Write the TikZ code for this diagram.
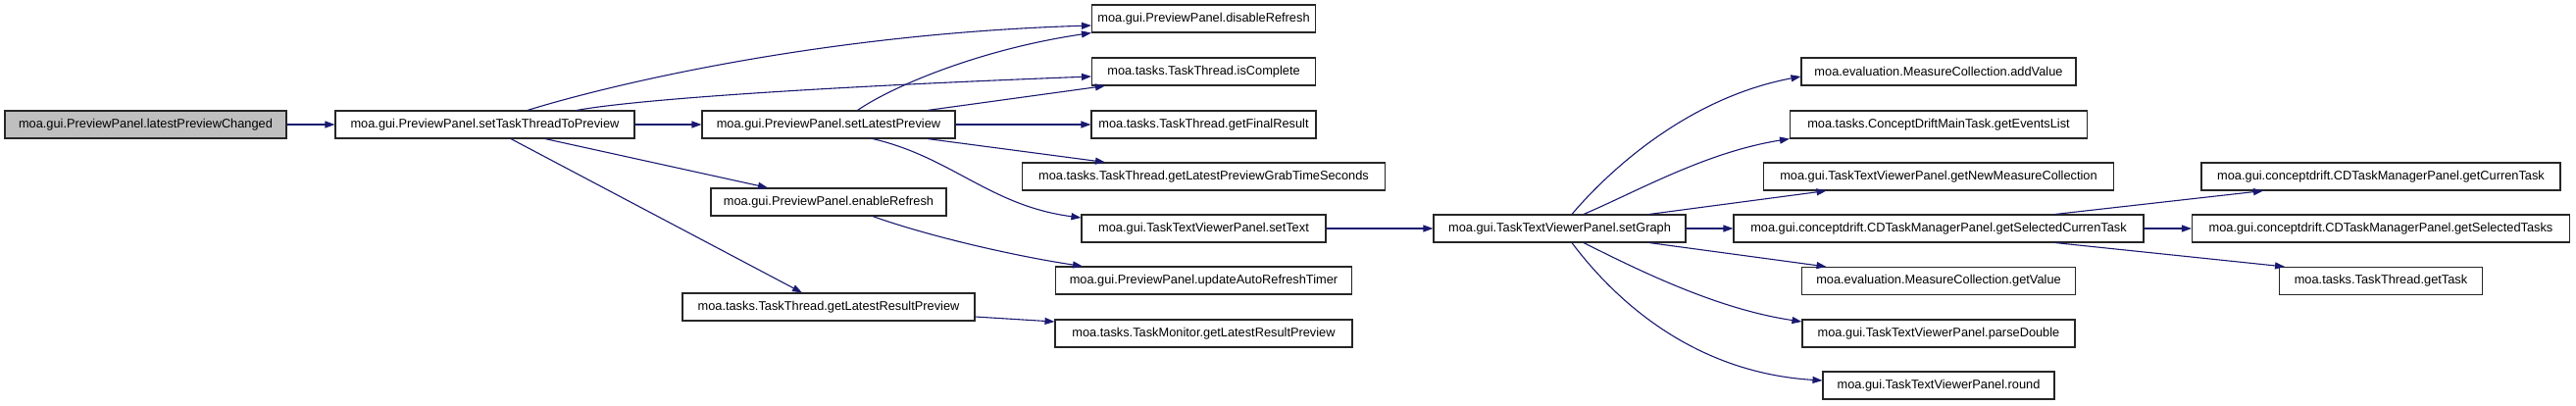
\documentclass[tikz,border=0pt]{standalone}
\usepackage{fontspec}
\setmainfont{Liberation Sans}
\usetikzlibrary{arrows.meta}
\definecolor{edgec}{HTML}{191970}
\definecolor{rootfill}{HTML}{BFBFBF}
\begin{document}
\begin{tikzpicture}[x=1pt,y=-1pt,
  fn/.style={draw=black!85, line width=1.1pt, fill=white, minimum height=28pt, inner sep=0pt, font=\fontsize{12.8}{14}\selectfont},
  ed/.style={draw=edgec, line width=1.1pt, -{Triangle[length=10pt,width=7pt]}}]
\useasboundingbox (0,0) rectangle (2627,413);
% column 0-2
\node[fn, fill=rootfill, minimum width=287pt] (lpc) at (148.5,127) {moa.gui.PreviewPanel.latestPreviewChanged};
\node[fn, minimum width=305pt] (sttp) at (494.5,127) {moa.gui.PreviewPanel.setTaskThreadToPreview};
\node[fn, minimum width=258pt] (slp) at (845,127) {moa.gui.PreviewPanel.setLatestPreview};
\node[fn, minimum width=240pt] (enr) at (845,206) {moa.gui.PreviewPanel.enableRefresh};
\node[fn, minimum width=298pt] (tglrp) at (845,313) {moa.tasks.TaskThread.getLatestResultPreview};
% column 3
\node[fn, minimum width=228pt] (dis) at (1227.5,19) {moa.gui.PreviewPanel.disableRefresh};
\node[fn, minimum width=228pt] (isc) at (1227.5,73) {moa.tasks.TaskThread.isComplete};
\node[fn, minimum width=229pt] (gfr) at (1227.5,127) {moa.tasks.TaskThread.getFinalResult};
\node[fn, minimum width=370pt] (grab) at (1227.5,180) {moa.tasks.TaskThread.getLatestPreviewGrabTimeSeconds};
\node[fn, minimum width=249pt] (stx) at (1227.5,233) {moa.gui.TaskTextViewerPanel.setText};
\node[fn, minimum width=302pt] (uart) at (1227.5,286) {moa.gui.PreviewPanel.updateAutoRefreshTimer};
\node[fn, minimum width=303pt] (tmglrp) at (1227.5,340) {moa.tasks.TaskMonitor.getLatestResultPreview};
% column 4
\node[fn, minimum width=257pt] (sg) at (1590.5,233) {moa.gui.TaskTextViewerPanel.setGraph};
% column 5
\node[fn, minimum width=280pt] (av) at (1977,73) {moa.evaluation.MeasureCollection.addValue};
\node[fn, minimum width=303pt] (gel) at (1977,127) {moa.tasks.ConceptDriftMainTask.getEventsList};
\node[fn, minimum width=357pt] (gnmc) at (1977,180) {moa.gui.TaskTextViewerPanel.getNewMeasureCollection};
\node[fn, minimum width=418pt] (gsct) at (1977,233) {moa.gui.conceptdrift.CDTaskManagerPanel.getSelectedCurrenTask};
\node[fn, minimum width=279pt] (gv) at (1977,286.5) {moa.evaluation.MeasureCollection.getValue};
\node[fn, minimum width=278pt] (pd) at (1977,340) {moa.gui.TaskTextViewerPanel.parseDouble};
\node[fn, minimum width=236pt] (rnd) at (1977,393) {moa.gui.TaskTextViewerPanel.round};
% column 6
\node[fn, minimum width=366pt] (gct) at (2428,180) {moa.gui.conceptdrift.CDTaskManagerPanel.getCurrenTask};
\node[fn, minimum width=385pt] (gst) at (2428,233) {moa.gui.conceptdrift.CDTaskManagerPanel.getSelectedTasks};
\node[fn, minimum width=207pt] (gt) at (2428,286.5) {moa.tasks.TaskThread.getTask};
% edges
\draw[ed] (lpc.east) -- (sttp.west);
\draw[ed] ([xshift=43.5pt]sttp.north) .. controls (600,93) and (820,35) .. ([yshift=-7pt]dis.west);
\draw[ed] ([xshift=93.5pt]sttp.north) .. controls (640,103) and (800,90) .. ([yshift=-5pt]isc.west);
\draw[ed] (sttp.east) -- (slp.west);
\draw[ed] ([xshift=61.5pt]sttp.south) -- ([xshift=-62pt]enr.north);
\draw[ed] ([xshift=26.5pt]sttp.south) -- ([xshift=-27pt]tglrp.north);
\draw[ed] ([xshift=29.5pt]slp.north) .. controls (910,88) and (1000,50) .. (dis.south west);
\draw[ed] ([xshift=101pt]slp.north) -- ([xshift=-100.5pt]isc.south);
\draw[ed] (slp.east) -- (gfr.west);
\draw[ed] ([xshift=101pt]slp.south) -- ([xshift=-100.5pt]grab.north);
\draw[ed] ([xshift=45pt]slp.south) .. controls (970,160) and (1010,210) .. ([yshift=11pt]stx.west);
\draw[ed] ([xshift=45pt]enr.south) .. controls (950,242) and (1040,262) .. ([xshift=-123.5pt]uart.north);
\draw[ed] ([yshift=-10pt]tglrp.east) -- ([yshift=12pt]tmglrp.west);
\draw[ed] (stx.east) -- (sg.west);
\draw[ed] ([xshift=12.5pt]sg.north) .. controls (1640,175) and (1720,100) .. ([yshift=-5pt]av.west);
\draw[ed] ([xshift=24.5pt]sg.north) .. controls (1670,195) and (1740,155) .. (gel.south west);
\draw[ed] ([xshift=91.5pt]sg.north) -- ([xshift=-114.5pt]gnmc.south);
\draw[ed] (sg.east) -- (gsct.west);
\draw[ed] ([xshift=91.5pt]sg.south) -- ([xshift=-114.5pt]gv.north);
\draw[ed] ([xshift=24.5pt]sg.south) .. controls (1670,275) and (1750,315) .. ([yshift=12pt]pd.west);
\draw[ed] ([xshift=12.5pt]sg.south) .. controls (1650,310) and (1730,380) .. ([yshift=5pt]rnd.west);
\draw[ed] ([xshift=119pt]gsct.north) -- ([xshift=-120pt]gct.south);
\draw[ed] (gsct.east) -- (gst.west);
\draw[ed] ([xshift=119pt]gsct.south) -- ([xshift=-98pt]gt.north);
\end{tikzpicture}
\end{document}
